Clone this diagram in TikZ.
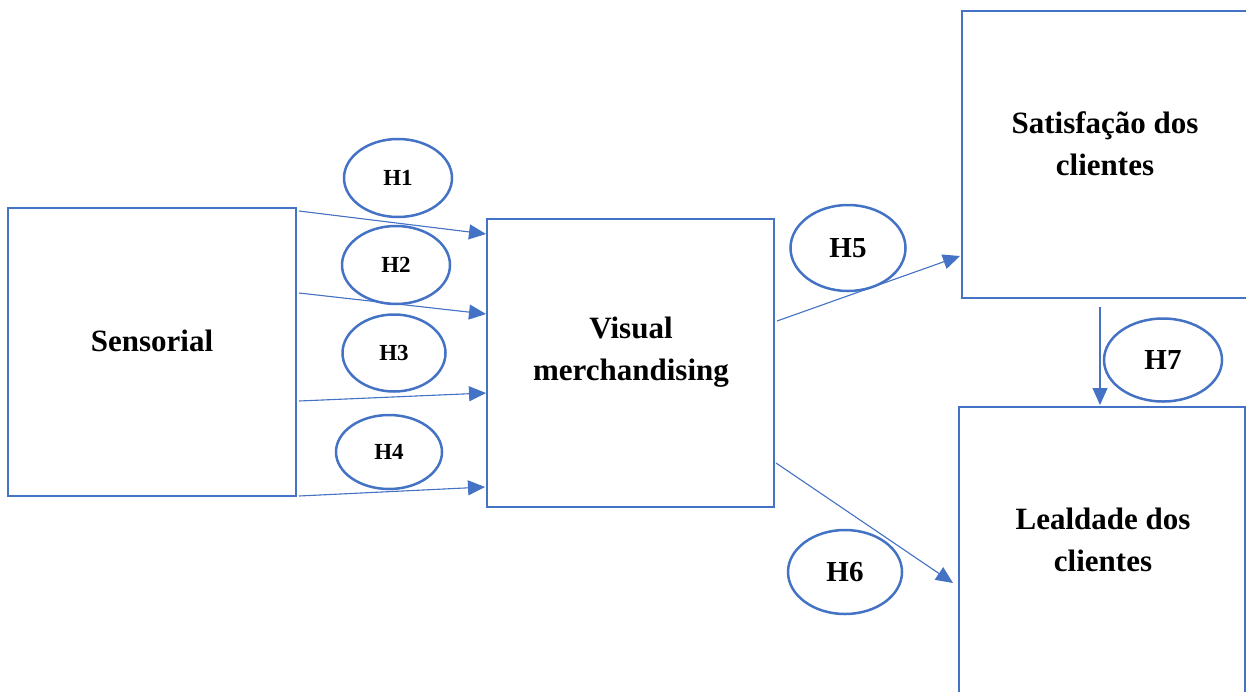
\documentclass[tikz,border=0pt]{standalone}
\usepackage{fontspec}
\setmainfont{Liberation Serif}
\usetikzlibrary{arrows.meta,calc,shapes.geometric}
\definecolor{lineblue}{HTML}{4472C4}
\begin{document}
\begin{tikzpicture}[x=1pt,y=-1pt,
  box/.style={draw=lineblue,line width=2.6pt,inner sep=0pt,outer sep=0pt},
  boxtext/.style={font=\fontsize{31}{42}\selectfont\bfseries,align=center,inner sep=0pt},
  hyp/.style={draw=lineblue,line width=2.5pt,ellipse,inner sep=0pt,outer sep=0pt},
  hsmall/.style={hyp,font=\fontsize{23}{26}\selectfont\bfseries},
  hbig/.style={hyp,font=\fontsize{29}{32}\selectfont\bfseries},
  arr/.style={draw=lineblue,line width=1.1pt,-{Triangle[length=17pt,width=15pt]},fill=lineblue}
]
\useasboundingbox (0,0) rectangle (1246,691);
\clip (0,0) rectangle (1246,691);

% boxes
\node[box,minimum width=288pt,minimum height=288pt] (sens) at (152,352) {};
\node[boxtext] (senst) at (152,341) {Sensorial};
\node[box,minimum width=287pt,minimum height=288pt] (vm) at (630.5,363) {};
\node[boxtext] (vmt) at (631,352) {Visual\\merchandising};
\node[box,minimum width=292pt,minimum height=287pt] (sat) at (1108,154.5) {};
\node[boxtext] (satt) at (1105,144) {Satisfação dos\\clientes};
\node[box,minimum width=286pt,minimum height=295pt] (leal) at (1102,554.5) {};
\node[boxtext] (lealt) at (1103,540) {Lealdade dos\\clientes};

% hypotheses
\node[hsmall,minimum width=108pt,minimum height=78pt] (h1) at (398,178) {H1};
\node[hsmall,minimum width=108pt,minimum height=78pt] (h2) at (396,265) {H2};
\node[hsmall,minimum width=103pt,minimum height=77pt] (h3) at (394,353) {H3};
\node[hsmall,minimum width=106pt,minimum height=74pt] (h4) at (389,452) {H4};
\node[hbig,minimum width=115pt,minimum height=86pt] (h5) at (848,248) {H5};
\node[hbig,minimum width=114pt,minimum height=84pt] (h6) at (845,572) {H6};
\node[hbig,minimum width=118pt,minimum height=83pt] (h7) at (1163,360) {H7};

% connector end points
\coordinate (a1s) at (299,211); \coordinate (a1e) at (486,234);
\coordinate (a2s) at (299,293); \coordinate (a2e) at (486,314);
\coordinate (a3s) at (299,401); \coordinate (a3e) at (486,393);
\coordinate (a4s) at (299,496); \coordinate (a4e) at (485,487);
\coordinate (a5s) at (777,321); \coordinate (a5e) at (960,256);
\coordinate (a6s) at (776,463); \coordinate (a6e) at (953,583);
\coordinate (a7s) at (1100,307); \coordinate (a7e) at (1100,405);

\draw[arr] (a1s) -- (a1e);
\draw[arr] (a2s) -- (a2e);
\draw[arr] (a3s) -- (a3e);
\draw[arr] (a4s) -- (a4e);
\draw[arr] (a5s) -- (a5e);
\draw[arr] (a6s) -- (a6e);
\draw[arr] (a7s) -- (a7e);
\end{tikzpicture}
\end{document}
